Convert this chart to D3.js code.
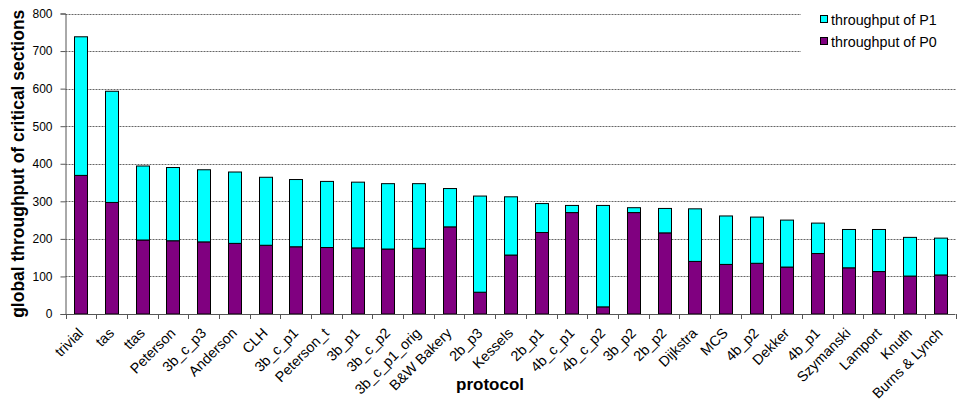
<!DOCTYPE html>
<html>
<head>
<meta charset="utf-8">
<script src="https://cdn.jsdelivr.net/npm/d3@7"></script>
<style>
  html, body { margin: 0; padding: 0; background: #fff; }
  svg { display: block; font-family: "Liberation Sans", Arial, sans-serif; }
</style>
</head>
<body>
<svg id="chart" width="968" height="406"></svg>
<script>
// Mutual exclusion protocols, sorted by global throughput
const protocols = ["trivial", "tas", "ttas", "Peterson", "3b_c_p3", "Anderson", "CLH", "3b_c_p1",
  "Peterson_t", "3b_p1", "3b_c_p2", "3b_c_p1_orig", "B&W Bakery", "2b_p3", "Kessels", "2b_p1",
  "4b_c_p1", "4b_c_p2", "3b_p2", "2b_p2", "Dijkstra", "MCS", "4b_p2", "Dekker", "4b_p1",
  "Szymanski", "Lamport", "Knuth", "Burns & Lynch"];

// Critical sections completed by each process
const throughputP0 = [369, 297, 197, 195, 192, 188, 183, 179, 177, 176, 173, 175, 232, 58, 157, 217,
  270, 19, 270, 216, 140, 132, 135, 125, 161, 123, 113, 101, 104];
const throughputP1 = [369, 296, 197, 195, 192, 190, 181, 179, 176, 175, 174, 172, 102, 256, 155, 77,
  19, 270, 13, 65, 140, 129, 123, 125, 81, 102, 112, 103, 98];

const yTicks = [0, 100, 200, 300, 400, 500, 600, 700, 800];

const seriesKeys = ["p0", "p1"];
const seriesNames = { p0: "throughput of P0", p1: "throughput of P1" };
const seriesColors = { p0: "#800080", p1: "#00FFFF" };

const rows = protocols.map((name, i) => ({ name, p0: throughputP0[i], p1: throughputP1[i] }));

const svg = d3.select("#chart");
const plot = { left: 65.5, right: 955.5, top: 13.5, bottom: 314 };

const x = d3.scaleBand()
  .domain(protocols)
  .range([plot.left, plot.right])
  .paddingInner(0.58)
  .paddingOuter(0.29);

const y = d3.scaleLinear().domain([0, 800]).range([plot.bottom, plot.top]);

// Dashed horizontal gridlines
svg.append("g")
  .selectAll("line")
  .data(yTicks.filter(d => d > 0))
  .join("line")
  .attr("x1", plot.left)
  .attr("x2", plot.right)
  .attr("y1", d => Math.round(y(d)) + 0.5)
  .attr("y2", d => Math.round(y(d)) + 0.5)
  .attr("stroke", "#666")
  .attr("stroke-width", 1)
  .attr("stroke-dasharray", "2,1");

// Stacked bars: P0 at the bottom, P1 on top
const stacked = d3.stack().keys(seriesKeys)(rows);
svg.append("g")
  .selectAll("g")
  .data(stacked)
  .join("g")
  .attr("fill", d => seriesColors[d.key])
  .selectAll("rect")
  .data(d => d)
  .join("rect")
  .attr("x", d => Math.round(x(d.data.name)) + 0.5)
  .attr("y", d => y(d[1]))
  .attr("width", Math.round(x.bandwidth()))
  .attr("height", d => y(d[0]) - y(d[1]))
  .attr("stroke", "#000")
  .attr("stroke-width", 1);

// Y axis
const yAxis = svg.append("g")
  .attr("transform", `translate(${plot.left},0)`)
  .call(d3.axisLeft(y).tickValues(yTicks).tickSize(5).tickPadding(8).tickFormat(d3.format("d")));
yAxis.select(".domain").attr("stroke", "#555");
yAxis.selectAll(".tick line").attr("stroke", "#555");
yAxis.selectAll("text").attr("font-size", 12).attr("fill", "#000");

// X axis: tick marks between categories, rotated labels at bar centres
const xAxisG = svg.append("g").attr("transform", `translate(0,${plot.bottom})`);
xAxisG.append("line")
  .attr("x1", plot.left).attr("x2", plot.right)
  .attr("y1", 0.5).attr("y2", 0.5)
  .attr("stroke", "#555");
const step = x.step();
xAxisG.selectAll("line.sep")
  .data(d3.range(protocols.length + 1))
  .join("line")
  .attr("class", "sep")
  .attr("x1", i => Math.round(plot.left + i * step) + 0.5)
  .attr("x2", i => Math.round(plot.left + i * step) + 0.5)
  .attr("y1", 0)
  .attr("y2", 5)
  .attr("stroke", "#555");
xAxisG.selectAll("text")
  .data(protocols)
  .join("text")
  .attr("transform", d => `translate(${x(d) + x.bandwidth() / 2 + 3.5},${20}) rotate(-45)`)
  .attr("text-anchor", "end")
  .attr("font-size", 14.3)
  .attr("fill", "#000")
  .text(d => d);

// Axis titles
svg.append("text")
  .attr("transform", `translate(24,${(plot.top + plot.bottom) / 2}) rotate(-90)`)
  .attr("text-anchor", "middle")
  .attr("font-size", 17.5)
  .attr("font-weight", "bold")
  .text("global throughput of critical sections");

svg.append("text")
  .attr("x", 490)
  .attr("y", 390)
  .attr("text-anchor", "middle")
  .attr("font-size", 17)
  .attr("font-weight", "bold")
  .text("protocol");

// Legend (P1 listed first, as stacked on top)
const legend = svg.append("g");
legend.append("rect")
  .attr("x", 801).attr("y", 0)
  .attr("width", 167).attr("height", 60)
  .attr("fill", "#fff");
const legendItems = legend.selectAll("g.item")
  .data(["p1", "p0"])
  .join("g")
  .attr("class", "item")
  .attr("transform", (d, i) => `translate(820,${19 + i * 22})`);
legendItems.append("rect")
  .attr("x", 0.5).attr("y", -3.5)
  .attr("width", 7).attr("height", 7)
  .attr("fill", d => seriesColors[d])
  .attr("stroke", "#000");
legendItems.append("text")
  .attr("x", 11)
  .attr("y", 5.5)
  .attr("font-size", 14.3)
  .attr("fill", "#000")
  .text(d => seriesNames[d]);
</script>
</body>
</html>
